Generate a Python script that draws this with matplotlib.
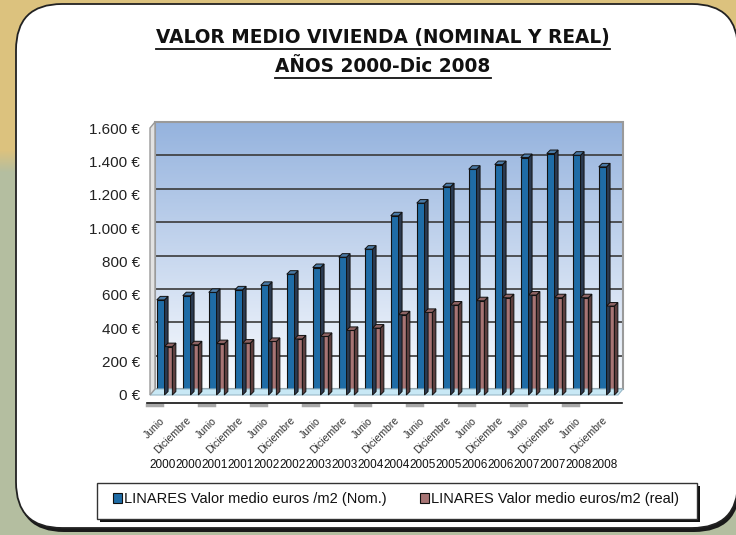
import numpy as np
import matplotlib
matplotlib.use("Agg")
import matplotlib.pyplot as plt
from matplotlib.patches import FancyBboxPatch, Rectangle, Polygon
from matplotlib.transforms import IdentityTransform, offset_copy
from matplotlib.lines import Line2D

# ---------------- data ----------------
periods = ["Junio", "Diciembre"] * 9
years = ["2000", "2000", "2001", "2001", "2002", "2002", "2003", "2003", "2004",
         "2004", "2005", "2005", "2006", "2006", "2007", "2007", "2008", "2008"]
nominal = [570, 595, 615, 630, 657, 724, 764, 826, 874, 1074, 1150, 1248,
           1353, 1381, 1423, 1447, 1437, 1367]
real = [290, 301, 308, 311, 321, 336, 351, 387, 401, 481, 495, 539,
        565, 583, 599, 583, 583, 533]
series_names = ["LINARES Valor medio euros /m2 (Nom.)",
                "LINARES Valor medio euros/m2 (real)"]
title_lines = ["VALOR MEDIO VIVIENDA (NOMINAL Y REAL)", "AÑOS 2000-Dic 2008"]
yticks = [0, 200, 400, 600, 800, 1000, 1200, 1400, 1600]

# ---------------- style ----------------
W, H = 736, 535
SANS = ["Liberation Sans", "DejaVu Sans"]
BLUE, BLUE_SIDE, BLUE_TOP = "#1f6ca6", "#2b3a50", "#4a7aa6"
RED, RED_SIDE, RED_TOP = "#a77474", "#5c3e3e", "#8d6363"
ID = IdentityTransform()

fig = plt.figure(figsize=(W / 100, H / 100), dpi=100)

# background (pixel coords, top-origin)
bg = fig.add_axes([0, 0, 1, 1])
bg.set_axis_off()
tan = np.array([220, 194, 126]) / 255
green = np.array([180, 190, 160]) / 255
yy = np.arange(H)
t = np.clip((yy - 150) / 22.0, 0, 1)[:, None]
col = tan * (1 - t) + green * t
bg.imshow(np.repeat(col[:, None, :], 2, axis=1), extent=(0, W, H, 0), aspect="auto", zorder=0)
bg.set_xlim(0, W)
bg.set_ylim(H, 0)

# white rounded panel with dark shadow
bg.add_patch(FancyBboxPatch((18, 8), 722, 524, boxstyle="round,pad=0,rounding_size=46",
                            fc="#1a1a1a", ec="none", zorder=1))
bg.add_patch(FancyBboxPatch((16, 4), 722, 524, boxstyle="round,pad=0,rounding_size=46",
                            fc="white", ec="#222222", lw=1.3, zorder=2))

# titles
tt1 = bg.text(383, 38, title_lines[0], ha="center", va="center", fontsize=14,
              fontweight="bold", family="DejaVu Sans", color="#111", zorder=5)
tt2 = bg.text(383, 67, title_lines[1], ha="center", va="center", fontsize=14,
              fontweight="bold", family="DejaVu Sans", color="#111", zorder=5)
fig.canvas.draw()
for txt, target in ((tt1, 453), (tt2, 215)):
    bb = txt.get_window_extent()
    txt.set_fontsize(14 * target / bb.width)
fig.canvas.draw()
for txt in (tt1, tt2):
    bb = txt.get_window_extent()
    fig.add_artist(Line2D([bb.x0, bb.x1], [bb.y0 - 1, bb.y0 - 1], transform=ID,
                          color="#111", lw=1.3, zorder=6))

# ---------------- chart ----------------
ax = fig.add_axes([150 / W, (H - 395) / H, 468 / W, 267 / H])
n = len(nominal)
back = offset_copy(ax.transData, fig=fig, x=5, y=6, units="dots")

# back wall gradient
top_c = np.array([149, 179, 222]) / 255
bot_c = np.array([250, 252, 255]) / 255
s = np.linspace(0, 1, 200)[:, None]
grad = top_c * (1 - s) + bot_c * s
im = ax.imshow(grad[:, None, :], extent=(0, n, 0, 1600), aspect="auto",
               transform=back, zorder=0.5, clip_on=False)
ax.set_xlim(0, n)
ax.set_ylim(0, 1600)
ax.patch.set_visible(False)
for sp in ax.spines.values():
    sp.set_visible(False)

for v in yticks[1:-1]:
    ax.plot([0, n], [v, v], transform=back, color="#3a3a3a", lw=1.2, zorder=1,
            clip_on=False)
ax.add_patch(Rectangle((0, 0), n, 1600, transform=back, fill=False, ec="#9a9a9a",
                       lw=1.5, zorder=1.2, clip_on=False))

d = np.array([5, 6])
p0 = ax.transData.transform((0, 0))
p1 = ax.transData.transform((n, 0))
pt = ax.transData.transform((0, 1600))
fig.add_artist(Polygon([p0, p1, p1 + d, p0 + d], closed=True, transform=ID,
                       fc="#c8e8f5", ec="#98b8c8", lw=0.8, zorder=1.3))
fig.add_artist(Polygon([p0, pt, pt + d, p0 + d], closed=True, transform=ID,
                       fc="#e2e2e2", ec="#9a9a9a", lw=1.0, zorder=1.3))

# bars
w = 0.30
x_blue = np.arange(n) + 0.26
x_red = x_blue + w
bd = np.array([3.5, 3.5])


def faces(xs, vals, side_c, top_c_, z):
    for x, v in zip(xs, vals):
        a = ax.transData.transform((x, 0))
        b = ax.transData.transform((x + w, v))
        br = np.array([b[0], a[1]])
        tr_ = np.array([b[0], b[1]])
        tl = np.array([a[0], b[1]])
        fig.add_artist(Polygon([br, br + bd, tr_ + bd, tr_], closed=True, transform=ID,
                               fc=side_c, ec="#111", lw=0.7, zorder=z))
        fig.add_artist(Polygon([tl, tr_, tr_ + bd, tl + bd], closed=True, transform=ID,
                               fc=top_c_, ec="#111", lw=0.7, zorder=z))


ax.bar(x_blue, nominal, width=w, align="edge", color=BLUE, edgecolor="#111",
       lw=0.8, zorder=3)
faces(x_blue, nominal, BLUE_SIDE, BLUE_TOP, 3.5)
ax.bar(x_red, real, width=w, align="edge", color=RED, edgecolor="#111",
       lw=0.8, zorder=4)
faces(x_red, real, RED_SIDE, RED_TOP, 4.5)

# y axis labels
ax.set_yticks(yticks)
ax.set_yticklabels([f"{v:,}".replace(",", ".") + " €" for v in yticks],
                   fontsize=11, family=SANS, color="#222")
ax.tick_params(axis="y", length=0, pad=7)
ax.set_xticks([])

# category axis line and year separators
fig.add_artist(Line2D([p0[0] - 3, p1[0] + 4], [p0[1] - 8, p0[1] - 8], transform=ID,
                      color="#111", lw=1.2, zorder=6))
for k in range(0, n, 2):
    xc = ax.transData.transform((k, 0))[0] + 4
    fig.add_artist(Line2D([xc - 7.5, xc + 7.5], [p0[1] - 9.5, p0[1] - 9.5], transform=ID,
                          color="#a8a8a8", lw=2.5, zorder=5))

tr_lab = offset_copy(ax.get_xaxis_transform(), fig=fig, x=0, y=-24, units="dots")
tr_year = offset_copy(ax.get_xaxis_transform(), fig=fig, x=0, y=-70, units="dots")
for i in range(n):
    ax.text(i + 0.5, 0, periods[i], transform=tr_lab, rotation=45, ha="right",
            va="center", rotation_mode="anchor", fontsize=7.5, family=SANS,
            color="#333")
    ax.text(i + 0.5, 0, years[i], transform=tr_year, ha="center", va="center",
            fontsize=8.5, family=SANS, color="#111")

# legend (pixel coords in bg)
bg.add_patch(Rectangle((100, 486), 600, 36, fc="#111", ec="none", zorder=7))
bg.add_patch(Rectangle((97, 483), 600, 36, fc="white", ec="#333", lw=1.0, zorder=8))
for xs, c, name in ((113, BLUE, series_names[0]), (420, RED, series_names[1])):
    bg.add_patch(Rectangle((xs, 493), 9, 10, fc=c, ec="#111", lw=0.8, zorder=9))
    bg.text(xs + 11, 498.5, name, ha="left", va="center", fontsize=10.5,
            family=SANS, color="#111", zorder=9)

fig.savefig("out.png", dpi=100)
